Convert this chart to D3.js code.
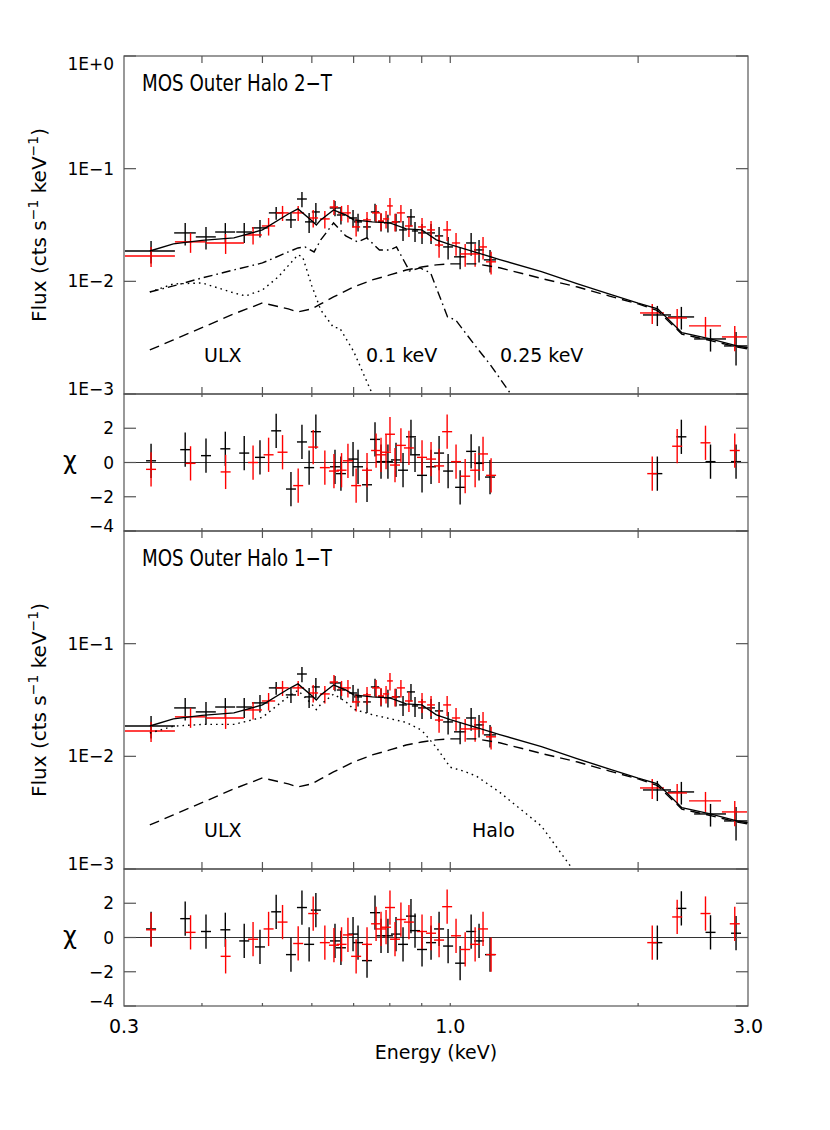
<!DOCTYPE html>
<html lang="en">
<head>
<meta charset="UTF-8">
<title>MOS Outer Halo spectra</title>
<script src="https://d3js.org/d3.v7.min.js"></script>
<style>
    body { margin: 0; padding: 0; background: #fff; }
    svg { display: block; font-family: "DejaVu Sans", sans-serif; }
    .frame { fill: none; stroke: #555; stroke-width: 1.2px; }
    .tick { stroke: #555; stroke-width: 1.2px; }
    .zero { stroke: #333; stroke-width: 1.2px; }
    .model { fill: none; stroke: #000; stroke-width: 1.4px; }
    .lbl { fill: #000; }
</style>
</head>
<body>
<svg id="chart" width="830" height="1130"></svg>
<script>
// ---- data ----
// black (MOS1) bins: energy range (keV), flux, flux error, chi for 2-T and 1-T fits
var blackELo = [0.301, 0.361, 0.391, 0.420, 0.454, 0.481, 0.512, 0.545, 0.568, 0.585, 0.600, 0.641, 0.658, 0.688, 0.701, 0.725, 0.746, 0.766, 0.783, 0.806, 0.828, 0.852, 0.868, 0.888, 0.918, 0.945, 0.974, 1.014, 1.060, 1.092, 1.132, 2.036, 2.233, 2.459, 2.746];
var blackEHi = [0.362, 0.391, 0.421, 0.452, 0.481, 0.510, 0.540, 0.566, 0.589, 0.603, 0.618, 0.666, 0.678, 0.709, 0.722, 0.746, 0.769, 0.783, 0.806, 0.831, 0.852, 0.878, 0.888, 0.914, 0.945, 0.974, 1.010, 1.060, 1.100, 1.132, 1.184, 2.258, 2.459, 2.766, 2.995];
var blackFlux = [0.0186, 0.0269, 0.0248, 0.0274, 0.0274, 0.0298, 0.0405, 0.0351, 0.0538, 0.0337, 0.0413, 0.0448, 0.0388, 0.0365, 0.0337, 0.0304, 0.0413, 0.0337, 0.0330, 0.0337, 0.0286, 0.0373, 0.0280, 0.0269, 0.0269, 0.0253, 0.0202, 0.0165, 0.0219, 0.0190, 0.0155, 0.00503, 0.00483, 0.00308, 0.00267];
var blackErr = [0.0042, 0.0061, 0.0056, 0.0055, 0.0055, 0.0053, 0.0053, 0.0054, 0.0083, 0.0068, 0.0083, 0.0069, 0.0069, 0.0065, 0.0060, 0.0061, 0.0074, 0.0060, 0.0059, 0.0060, 0.0058, 0.0066, 0.0057, 0.0054, 0.0054, 0.0051, 0.0046, 0.0037, 0.0050, 0.0043, 0.0035, 0.00102, 0.00110, 0.00070, 0.00088];
var blackChi2T = [0.1, 0.75, 0.4, 0.8, 0.55, 0.3, 1.85, -1.55, 1.2, -0.3, 1.8, -0.25, -0.65, 0.2, -0.25, -1.3, 1.35, 0.05, 0.05, 0.15, -0.45, 1.5, 0.45, -0.75, -0.25, 0.55, -0.5, -1.45, 0.65, -0.05, -0.85, -0.65, 1.5, 0.05, 0.05];
var blackChi1T = [0.5, 1.1, 0.35, 0.45, -0.2, -0.55, 1.5, -1.0, 1.75, -0.4, 1.6, -0.2, -0.6, 0.2, -0.3, -1.35, 1.45, 0.1, 0.1, 0.2, -0.4, 1.25, 0.4, -0.7, -0.3, 0.5, -0.5, -1.5, 0.35, -0.2, -1.0, -0.3, 1.7, 0.3, 0.25];

// red (MOS2) bins
var redELo = [0.301, 0.362, 0.406, 0.467, 0.499, 0.526, 0.558, 0.592, 0.618, 0.641, 0.661, 0.678, 0.696, 0.725, 0.749, 0.766, 0.780, 0.792, 0.806, 0.821, 0.846, 0.888, 0.918, 0.945, 0.974, 1.006, 1.037, 1.076, 1.112, 1.141, 2.014, 2.225, 2.413, 2.725];
var redEHi = [0.362, 0.405, 0.467, 0.499, 0.524, 0.551, 0.583, 0.614, 0.641, 0.661, 0.678, 0.693, 0.717, 0.746, 0.772, 0.783, 0.798, 0.809, 0.825, 0.846, 0.871, 0.914, 0.945, 0.974, 1.003, 1.037, 1.076, 1.116, 1.145, 1.184, 2.200, 2.395, 2.716, 2.989];
var redFlux = [0.0168, 0.0224, 0.0219, 0.0258, 0.0310, 0.0405, 0.0405, 0.0365, 0.0358, 0.0457, 0.0405, 0.0405, 0.0304, 0.0351, 0.0405, 0.0344, 0.0358, 0.0467, 0.0337, 0.0405, 0.0310, 0.0304, 0.0286, 0.0210, 0.0286, 0.0219, 0.0175, 0.0175, 0.0202, 0.0149, 0.00524, 0.00473, 0.00402, 0.00321];
var redErr = [0.0034, 0.0045, 0.0044, 0.0046, 0.0055, 0.0062, 0.0062, 0.0065, 0.0064, 0.0070, 0.0062, 0.0072, 0.0054, 0.0062, 0.0072, 0.0061, 0.0064, 0.0083, 0.0060, 0.0072, 0.0063, 0.0061, 0.0058, 0.0048, 0.0058, 0.0050, 0.0040, 0.0040, 0.0046, 0.0034, 0.00106, 0.00096, 0.00081, 0.00081];
var redChi2T = [-0.4, -0.05, -0.55, 0.0, 0.45, 0.6, -1.35, 0.9, -0.3, -0.5, -0.45, 0.1, -1.35, -0.45, 0.7, 0.45, 0.6, 1.65, -0.15, 1.0, 0.85, 0.3, 0.2, -0.2, 1.8, 0.05, -0.8, -0.45, 0.5, -0.75, -0.65, 0.95, 1.15, 0.7];
var redChi1T = [0.45, 0.3, -1.1, -0.1, 0.5, 0.9, -0.35, 1.4, -0.3, -0.45, -0.4, 0.15, -1.1, -0.4, 0.8, 0.5, 0.6, 1.75, -0.1, 1.05, 0.9, 0.35, 0.25, -0.15, 1.8, 0.1, -0.7, -0.4, 0.5, -1.0, -0.3, 1.2, 1.4, 0.8];

// model curves
var modelE = [0.33, 0.36, 0.40, 0.45, 0.50, 0.55, 0.57, 0.60, 0.61, 0.62, 0.65, 0.68, 0.70, 0.75, 0.80, 0.85, 0.90, 0.95, 1.0, 1.1, 1.2, 1.4, 1.6, 1.8, 2.0, 2.15, 2.35, 2.6, 2.9, 3.0];
var totalFlux = [0.0186, 0.0215, 0.0231, 0.0243, 0.0286, 0.0396, 0.0439, 0.0345, 0.0317, 0.0351, 0.0430, 0.0388, 0.0351, 0.0337, 0.0330, 0.0292, 0.0286, 0.0233, 0.0212, 0.0181, 0.0156, 0.0122, 0.0095, 0.0077, 0.0064, 0.0057, 0.0035, 0.0031, 0.00265, 0.00257];
var ulxFlux = [0.00246, 0.00302, 0.00388, 0.00514, 0.00643, 0.00569, 0.00535, 0.00569, 0.00600, 0.00630, 0.00727, 0.00822, 0.00892, 0.01029, 0.0114, 0.0126, 0.0134, 0.0140, 0.0143, 0.0143, 0.0132, 0.0106, 0.0089, 0.0074, 0.0063, 0.0055, 0.0034, 0.0030, 0.00259, 0.00251];

var softE = [0.33, 0.36, 0.40, 0.45, 0.47, 0.50, 0.53, 0.555, 0.57, 0.58, 0.60, 0.62, 0.65, 0.665, 0.70, 0.75];
var softFlux = [0.00805, 0.00948, 0.00968, 0.00789, 0.00742, 0.00839, 0.01094, 0.01456, 0.01715, 0.0165, 0.0091, 0.00557, 0.0039, 0.00385, 0.00239, 0.0010];

var warmE = [0.33, 0.36, 0.40, 0.45, 0.50, 0.55, 0.57, 0.585, 0.605, 0.62, 0.65, 0.68, 0.71, 0.735, 0.77, 0.80, 0.82, 0.86, 0.895, 0.93, 0.99, 1.02, 1.10, 1.16, 1.25];
var warmFlux = [0.00805, 0.00910, 0.01072, 0.01262, 0.01456, 0.01823, 0.01979, 0.02019, 0.01823, 0.02330, 0.03297, 0.02528, 0.02236, 0.02427, 0.01899, 0.01899, 0.02019, 0.01237, 0.01315, 0.01187, 0.00483, 0.00454, 0.00262, 0.00181, 0.00100];

var haloE = [0.33, 0.36, 0.40, 0.45, 0.50, 0.55, 0.57, 0.60, 0.61, 0.62, 0.65, 0.68, 0.70, 0.75, 0.80, 0.85, 0.90, 0.95, 1.0, 1.05, 1.1, 1.2, 1.4, 1.57];
var haloFlux = [0.0161, 0.0185, 0.0192, 0.0192, 0.0222, 0.0339, 0.0385, 0.0290, 0.0260, 0.0289, 0.0357, 0.0306, 0.0262, 0.0234, 0.0216, 0.0200, 0.0170, 0.0120, 0.0080, 0.0074, 0.0067, 0.0048, 0.0024, 0.0010];

// axis ticks
var fluxTicks = [1, 0.1, 0.01, 0.001];
var fluxTickLabels = ['1E+0', '1E\u22121', '1E\u22122', '1E\u22123'];
var chiTicks = [-4, -2, 0, 2];
var chiTickLabels = ['\u22124', '\u22122', '0', '2'];
var energyMinor = [0.4, 0.5, 0.6, 0.7, 0.8, 0.9, 1.0, 2.0];
var energyTicks = [0.3, 1.0, 3.0];
var energyTickLabels = ['0.3', '1.0', '3.0'];

// ---- layout ----
var left = 124, right = 748;
var svg = d3.select('#chart');
var x = d3.scaleLog().domain([0.3, 3.0]).range([left, right]);

var panels = [
    { title: 'MOS Outer Halo 2\u2212T', top: 56, bottom: 394, rBottom: 531, chiKey: 'c2', showFirstLabel: true,
      models: [
          { e: modelE, f: totalFlux, dash: null },
          { e: modelE, f: ulxFlux, dash: '10,6' },
          { e: softE, f: softFlux, dash: '1.6,4' },
          { e: warmE, f: warmFlux, dash: '9,4,1.6,4' }
      ],
      notes: [ { t: 'ULX', x: 204, y: 362 }, { t: '0.1 keV', x: 366, y: 362 }, { t: '0.25 keV', x: 500, y: 362 } ] },
    { title: 'MOS Outer Halo 1\u2212T', top: 531, bottom: 869, rBottom: 1006, chiKey: 'c1', showFirstLabel: false,
      models: [
          { e: modelE, f: totalFlux, dash: null },
          { e: modelE, f: ulxFlux, dash: '10,6' },
          { e: haloE, f: haloFlux, dash: '1.6,4' }
      ],
      notes: [ { t: 'ULX', x: 204, y: 837 }, { t: 'Halo', x: 472, y: 837 } ] }
];

function makePoints(lo, hi, f, err, c2, c1) {
    return lo.map(function(d, i) {
        return { lo: d, hi: hi[i], f: f[i], err: err[i], c2: c2[i], c1: c1[i] };
    });
}
var datasets = [
    { color: '#000', pts: makePoints(blackELo, blackEHi, blackFlux, blackErr, blackChi2T, blackChi1T) },
    { color: '#ff0000', pts: makePoints(redELo, redEHi, redFlux, redErr, redChi2T, redChi1T) }
];

var defs = svg.append('defs');

panels.forEach(function(p, pi) {
    var y = d3.scaleLog().domain([0.001, 1]).range([p.bottom, p.top]);
    var yr = d3.scaleLinear().domain([-4, 4]).range([p.rBottom, p.bottom]);

    defs.append('clipPath').attr('id', 'clipS' + pi).append('rect')
        .attr('x', left).attr('y', p.top).attr('width', right - left).attr('height', p.bottom - p.top);
    defs.append('clipPath').attr('id', 'clipR' + pi).append('rect')
        .attr('x', left).attr('y', p.bottom).attr('width', right - left).attr('height', p.rBottom - p.bottom);

    var gs = svg.append('g').attr('clip-path', 'url(#clipS' + pi + ')');
    var gr = svg.append('g').attr('clip-path', 'url(#clipR' + pi + ')');

    // zero line
    gr.append('line').attr('class', 'zero')
        .attr('x1', left).attr('x2', right).attr('y1', yr(0)).attr('y2', yr(0));

    // data crosses
    datasets.forEach(function(ds) {
        var g = gs.append('g').attr('stroke', ds.color).attr('stroke-width', 1.4);
        g.selectAll('.h').data(ds.pts).enter().append('line')
            .attr('x1', function(d) { return x(d.lo); })
            .attr('x2', function(d) { return x(d.hi); })
            .attr('y1', function(d) { return y(d.f); })
            .attr('y2', function(d) { return y(d.f); });
        g.selectAll('.v').data(ds.pts).enter().append('line')
            .attr('x1', function(d) { return x((d.lo + d.hi) / 2); })
            .attr('x2', function(d) { return x((d.lo + d.hi) / 2); })
            .attr('y1', function(d) { return y(d.f + d.err); })
            .attr('y2', function(d) { return y(Math.max(d.f - d.err, 1e-4)); });

        // residual markers: short bar, +-1 sigma error
        var r = gr.append('g').attr('stroke', ds.color).attr('stroke-width', 1.4);
        r.selectAll('.h').data(ds.pts).enter().append('line')
            .attr('x1', function(d) { return x((d.lo + d.hi) / 2) - 5; })
            .attr('x2', function(d) { return x((d.lo + d.hi) / 2) + 5; })
            .attr('y1', function(d) { return yr(d[p.chiKey]); })
            .attr('y2', function(d) { return yr(d[p.chiKey]); });
        r.selectAll('.v').data(ds.pts).enter().append('line')
            .attr('x1', function(d) { return x((d.lo + d.hi) / 2); })
            .attr('x2', function(d) { return x((d.lo + d.hi) / 2); })
            .attr('y1', function(d) { return yr(d[p.chiKey] + 1); })
            .attr('y2', function(d) { return yr(d[p.chiKey] - 1); });
    });

    // model curves
    p.models.forEach(function(m) {
        var line = d3.line()
            .x(function(d, i) { return x(m.e[i]); })
            .y(function(d) { return y(d); });
        gs.append('path').attr('class', 'model')
            .attr('d', line(m.f))
            .attr('stroke-dasharray', m.dash);
    });

    // frames
    svg.append('rect').attr('class', 'frame')
        .attr('x', left).attr('y', p.top).attr('width', right - left).attr('height', p.bottom - p.top);
    svg.append('rect').attr('class', 'frame')
        .attr('x', left).attr('y', p.bottom).attr('width', right - left).attr('height', p.rBottom - p.bottom);

    // x ticks (top/bottom of both boxes)
    [[p.top, 7], [p.bottom, -7], [p.bottom, 3], [p.rBottom, -3]].forEach(function(s) {
        svg.append('g').selectAll('line').data(energyMinor).enter().append('line').attr('class', 'tick')
            .attr('x1', function(d) { return x(d); }).attr('x2', function(d) { return x(d); })
            .attr('y1', s[0]).attr('y2', s[0] + s[1]);
    });

    // y ticks, spectrum
    fluxTicks.forEach(function(v, i) {
        var yy = y(v);
        svg.append('line').attr('class', 'tick').attr('x1', left).attr('x2', left + 12).attr('y1', yy).attr('y2', yy);
        svg.append('line').attr('class', 'tick').attr('x1', right - 12).attr('x2', right).attr('y1', yy).attr('y2', yy);
        if (i === 0 && !p.showFirstLabel) return;
        var ly = Math.min(Math.max(yy, p.top + 8), p.bottom - 5);
        svg.append('text').attr('class', 'lbl').attr('x', 114).attr('y', ly + 6)
            .attr('text-anchor', 'end').attr('font-size', 17).text(fluxTickLabels[i]);
    });
    // y ticks, residuals
    chiTicks.forEach(function(v, i) {
        var yy = yr(v);
        svg.append('line').attr('class', 'tick').attr('x1', left).attr('x2', left + 12).attr('y1', yy).attr('y2', yy);
        svg.append('line').attr('class', 'tick').attr('x1', right - 12).attr('x2', right).attr('y1', yy).attr('y2', yy);
        var ly = Math.min(yy, p.rBottom - 5);
        svg.append('text').attr('class', 'lbl').attr('x', 114).attr('y', ly + 6)
            .attr('text-anchor', 'end').attr('font-size', 17).text(chiTickLabels[i]);
    });

    // axis titles
    var fl = svg.append('text').attr('class', 'lbl').attr('font-size', 20)
        .attr('text-anchor', 'middle')
        .attr('transform', 'translate(46,' + ((p.top + p.bottom) / 2) + ') rotate(-90)');
    fl.append('tspan').text('Flux (cts s');
    fl.append('tspan').attr('font-size', 14).attr('dy', -8).text('\u22121');
    fl.append('tspan').attr('dy', 8).text(' keV');
    fl.append('tspan').attr('font-size', 14).attr('dy', -8).text('\u22121');
    fl.append('tspan').attr('dy', 8).text(')');

    svg.append('text').attr('class', 'lbl').attr('font-size', 24)
        .attr('x', 70).attr('y', yr(0) + 6).attr('text-anchor', 'middle').text('\u03c7');

    // panel title and component notes
    svg.append('text').attr('class', 'lbl').attr('x', 142).attr('y', p.top + 35)
        .attr('font-size', 23).attr('textLength', 190).attr('lengthAdjust', 'spacingAndGlyphs')
        .text(p.title);
    p.notes.forEach(function(n) {
        svg.append('text').attr('class', 'lbl').attr('x', n.x).attr('y', n.y)
            .attr('font-size', 19).text(n.t);
    });
});

// energy axis labels
energyTicks.forEach(function(v, i) {
    svg.append('text').attr('class', 'lbl').attr('x', x(v)).attr('y', 1033)
        .attr('text-anchor', 'middle').attr('font-size', 19).text(energyTickLabels[i]);
});
svg.append('text').attr('class', 'lbl').attr('x', (left + right) / 2).attr('y', 1059)
    .attr('text-anchor', 'middle').attr('font-size', 19).text('Energy (keV)');
</script>
</body>
</html>
